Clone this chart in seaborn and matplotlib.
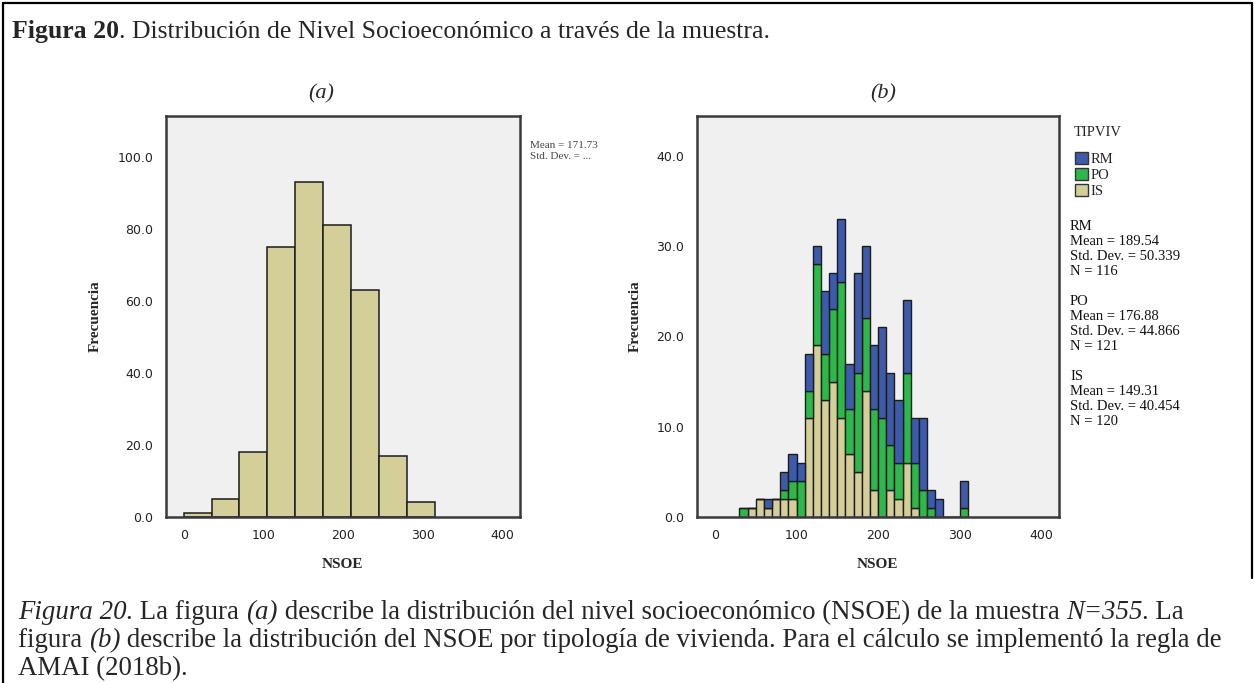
import matplotlib
matplotlib.use("Agg")
import matplotlib.pyplot as plt
import seaborn as sns
import pandas as pd
from matplotlib.patches import Patch
from matplotlib.lines import Line2D
from matplotlib.text import Annotation

# ---------------- data ----------------
# Panel (a): NSOE histogram of the full sample
bin_edges_a = [0, 35, 70, 105, 140, 175, 210, 245, 280, 315]
counts_a = [1, 5, 18, 75, 93, 81, 63, 17, 4]

# Panel (b): stacked histogram by TIPVIV (bins of width 10)
bin_edges_b = [30, 40, 50, 60, 70, 80, 90, 100, 110, 120, 130, 140, 150, 160,
               170, 180, 190, 200, 210, 220, 230, 240, 250, 260, 270, 280, 290,
               300, 310]
rm_counts = [0, 0, 0, 1, 0, 2, 3, 2, 4, 2, 7, 4, 7, 5, 11, 8, 7, 10, 8, 7, 8,
             5, 8, 2, 2, 0, 0, 3]
po_counts = [1, 0, 0, 0, 0, 1, 2, 4, 3, 9, 5, 8, 15, 5, 11, 8, 9, 11, 5, 4, 10,
             5, 3, 1, 0, 0, 0, 1]
is_counts = [0, 1, 2, 1, 2, 2, 2, 0, 11, 19, 13, 15, 11, 7, 5, 14, 3, 0, 3, 2,
             6, 1, 0, 0, 0, 0, 0, 0]
groups = ["RM", "PO", "IS"]
group_colors = ["#3D5AAB", "#2DB84B", "#D4CF98"]
stats_b = {
    "RM": ["Mean = 189.54", "Std. Dev. = 50.339", "N = 116"],
    "PO": ["Mean = 176.88", "Std. Dev. = 44.866", "N = 121"],
    "IS": ["Mean = 149.31", "Std. Dev. = 40.454", "N = 120"],
}

x_ticks = [0, 100, 200, 300, 400]
y_ticks_a = [0, 20, 40, 60, 80, 100]
y_ticks_b = [0, 10, 20, 30, 40]

# ---------------- figure ----------------
W, H = 1255, 683
sns.set_style("white")
plt.rcParams["font.family"] = ["DejaVu Sans"]
SERIF = "Liberation Serif"

fig = plt.figure(figsize=(W / 100, H / 100), dpi=100)
fig.patch.set_facecolor("white")


def px_axes(x0, y0, x1, y1):
    return fig.add_axes([x0 / W, 1 - y1 / H, (x1 - x0) / W, (y1 - y0) / H])


ax1 = px_axes(165.7, 115.7, 520, 516.7)
ax2 = px_axes(696.7, 115.7, 1059, 516.7)

# panel (a)
mid_a = [(bin_edges_a[i] + bin_edges_a[i + 1]) / 2 for i in range(len(counts_a))]
df_a = pd.DataFrame({"NSOE": mid_a, "n": counts_a})
sns.histplot(data=df_a, x="NSOE", weights="n", bins=bin_edges_a,
             color="#D4CF98", alpha=1, edgecolor="#1c1c1c", linewidth=1.1,
             ax=ax1)

# panel (b)
rows = []
for g, cnts in zip(groups, [rm_counts, po_counts, is_counts]):
    for i, c in enumerate(cnts):
        if c > 0:
            rows.append({"NSOE": (bin_edges_b[i] + bin_edges_b[i + 1]) / 2,
                         "n": c, "TIPVIV": g})
df_b = pd.DataFrame(rows)
sns.histplot(data=df_b, x="NSOE", weights="n", hue="TIPVIV", hue_order=groups,
             palette=dict(zip(groups, group_colors)), multiple="stack",
             bins=bin_edges_b, alpha=1, edgecolor="#1c1c1c", linewidth=1.0,
             legend=False, ax=ax2)

for ax, yt, ylim, ylx in [(ax1, y_ticks_a, 111.4, -0.20), (ax2, y_ticks_b, 44.5, -0.17)]:
    ax.set_facecolor("#F0F0F0")
    ax.set_xlim(-22.5, 422)
    ax.set_ylim(0, ylim)
    ax.set_xticks(x_ticks)
    ax.set_xticklabels([str(v) for v in x_ticks])
    ax.set_yticks(yt)
    ax.set_yticklabels([f"{v:.1f}" for v in yt])
    for s in ax.spines.values():
        s.set_color("#3a3a3a")
        s.set_linewidth(1.8)
        s.set_visible(True)
    ax.tick_params(axis="both", direction="out", length=7, width=1.4,
                   color="#3a3a3a", labelsize=9, labelcolor="#222222", pad=2)
    ax.set_xlabel("NSOE", family=SERIF, weight="bold", fontsize=11)
    ax.set_ylabel("Frecuencia", family=SERIF, weight="bold", fontsize=11)
    ax.yaxis.set_label_coords(ylx, 0.5)
    ax.yaxis.label.set_verticalalignment("center")
    ax.xaxis.set_label_coords(0.5, -0.12)
    ax.xaxis.label.set_verticalalignment("center")

# stats text panel (a)
fig.text(530 / W, 1 - 151 / H, "Mean = 171.73\nStd. Dev. = ...", family=SERIF,
         fontsize=8, color="#444444", va="center", linespacing=1.2)

# legend panel (b)
fig.text(1074 / W, 1 - 132 / H, "TIPVIV", family=SERIF, fontsize=10.5,
         va="center", ha="left")
handles = [Patch(facecolor=c, edgecolor="#333333", linewidth=1.0) for c in group_colors]
leg = ax2.legend(handles, groups, loc="upper left",
                 bbox_to_anchor=(1075 / W, 1 - 152 / H), bbox_transform=fig.transFigure,
                 frameon=False, handlelength=0.9, handleheight=0.9,
                 handletextpad=0.15, labelspacing=0.12, borderaxespad=0,
                 borderpad=0, prop={"family": SERIF, "size": 10.5})

y0 = 220
for g in groups:
    fig.text(1070 / W, 1 - y0 / H, "\n".join([g] + stats_b[g]), family=SERIF,
             fontsize=10.5, va="top", linespacing=1.2, color="#111111")
    y0 += 75

# panel titles
fig.text(321 / W, 1 - 94 / H, "(a)", family=SERIF, style="italic", fontsize=16,
         ha="center", va="center")
fig.text(883 / W, 1 - 94 / H, "(b)", family=SERIF, style="italic", fontsize=16,
         ha="center", va="center")


def rich_line(x_px, y_px, segments, size):
    first_txt, first_style = segments[0]
    t = fig.text(x_px / W, 1 - y_px / H, first_txt, family=SERIF, fontsize=size,
                 va="baseline", **first_style)
    prev = t
    for txt, st in segments[1:]:
        a = Annotation(txt, xy=(1, 0), xycoords=prev, va="bottom",
                       family=SERIF, fontsize=size, **st)
        fig.add_artist(a)
        prev = a


R = {}
I = {"style": "italic"}
B = {"weight": "bold"}
rich_line(12, 38, [("Figura 20", B),
                   (". Distribución de Nivel Socioeconómico a través de la muestra.", R)], 18.5)
rich_line(18, 619, [("Figura 20.", I), (" La figura ", R), ("(a)", I),
                    (" describe la distribución del nivel socioeconómico (NSOE) de la muestra ", R),
                    ("N=355", I), (". La", R)], 19.35)
rich_line(18, 647, [("figura ", R), ("(b)", I),
                    (" describe la distribución del NSOE por tipología de vivienda. Para el cálculo se implementó la regla de", R)], 19.35)
rich_line(18, 675, [("AMAI (2018b).", R)], 19.35)

# frame lines
def fline(x0, y0, x1, y1):
    fig.add_artist(Line2D([x0 / W, x1 / W], [1 - y0 / H, 1 - y1 / H],
                          transform=fig.transFigure, color="black", lw=1.6))


fline(3, 3, 1252, 3)
fline(3, 3, 3, 683)
fline(1252, 3, 1252, 578)

fig.savefig("out.png", dpi=100)
